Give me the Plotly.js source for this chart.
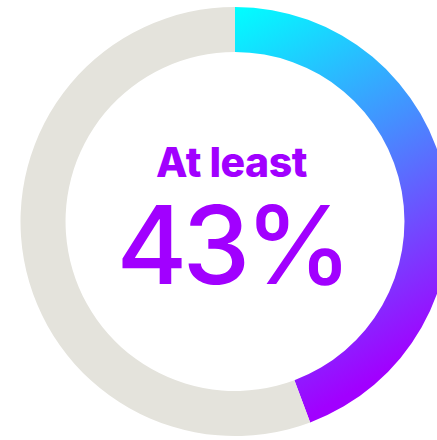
<!DOCTYPE html>
<html>
<head>
<meta charset="utf-8">
<script src="https://cdn.plot.ly/plotly-3.0.1.min.js"></script>
<style>
html,body{margin:0;padding:0;overflow:hidden;background:#fff;width:437px;height:440px;}
#chart{width:470px;height:440px;}
</style>
</head>
<body>
<div id="chart"></div>
<script>
const labels = ["At least", "Rest"];
const values = [44.3, 55.7];
const colors = ["#5a6cff", "#e4e3dc"];
const headline = "At least";
const bigNumber = "43%";

const W = 470, H = 440;
const trace = {
  type: "pie",
  labels: labels,
  values: values,
  hole: 0.79,
  sort: false,
  direction: "clockwise",
  rotation: 0,
  textinfo: "none",
  hoverinfo: "none",
  marker: {colors: colors, line: {width: 0}},
  domain: {x: [0, 1], y: [4 / H, 433 / H]},
  showlegend: false
};
const layout = {
  width: W, height: H,
  margin: {l: 0, r: 0, t: 0, b: 0},
  paper_bgcolor: "#ffffff",
  showlegend: false,
  annotations: [
    {text: headline, x: 231 / W, y: (H - 162) / H, xref: "paper", yref: "paper",
     xanchor: "center", yanchor: "middle", showarrow: false,
     font: {family: "Inter, 'Open Sans', sans-serif", size: 41, color: "#a100ff", weight: 800}},
    {text: bigNumber, x: 232 / W, y: (H - 244) / H, xref: "paper", yref: "paper",
     xanchor: "center", yanchor: "middle", showarrow: false,
     font: {family: "Inter, 'Open Sans', sans-serif", size: 108, color: "#a100ff", weight: 500}}
  ]
};
Plotly.newPlot("chart", [trace], layout, {staticPlot: true, displayModeBar: false}).then(function (gd) {
  const svg = gd.querySelector("svg.main-svg");
  const ns = "http://www.w3.org/2000/svg";
  let defs = svg.querySelector("defs");
  if (!defs) { defs = document.createElementNS(ns, "defs"); svg.insertBefore(defs, svg.firstChild); }
  const lg = document.createElementNS(ns, "linearGradient");
  lg.setAttribute("id", "sliceGrad");
  lg.setAttribute("x1", "0"); lg.setAttribute("y1", "0");
  lg.setAttribute("x2", "0.3"); lg.setAttribute("y2", "1");
  [["0", "#00ffff"], ["0.45", "#4490ff"], ["1", "#a100ff"]].forEach(function (s) {
    const st = document.createElementNS(ns, "stop");
    st.setAttribute("offset", s[0]); st.setAttribute("stop-color", s[1]);
    lg.appendChild(st);
  });
  defs.appendChild(lg);
  const slice = gd.querySelectorAll("g.slice path.surface")[0];
  if (slice) slice.style.fill = "url(#sliceGrad)";
  const texts = gd.querySelectorAll("g.annotation-text-g text");
  if (texts[1]) { texts[1].style.letterSpacing = "-5px"; }
  if (texts[0]) { texts[0].style.letterSpacing = "-0.5px"; }
});
</script>
</body>
</html>
